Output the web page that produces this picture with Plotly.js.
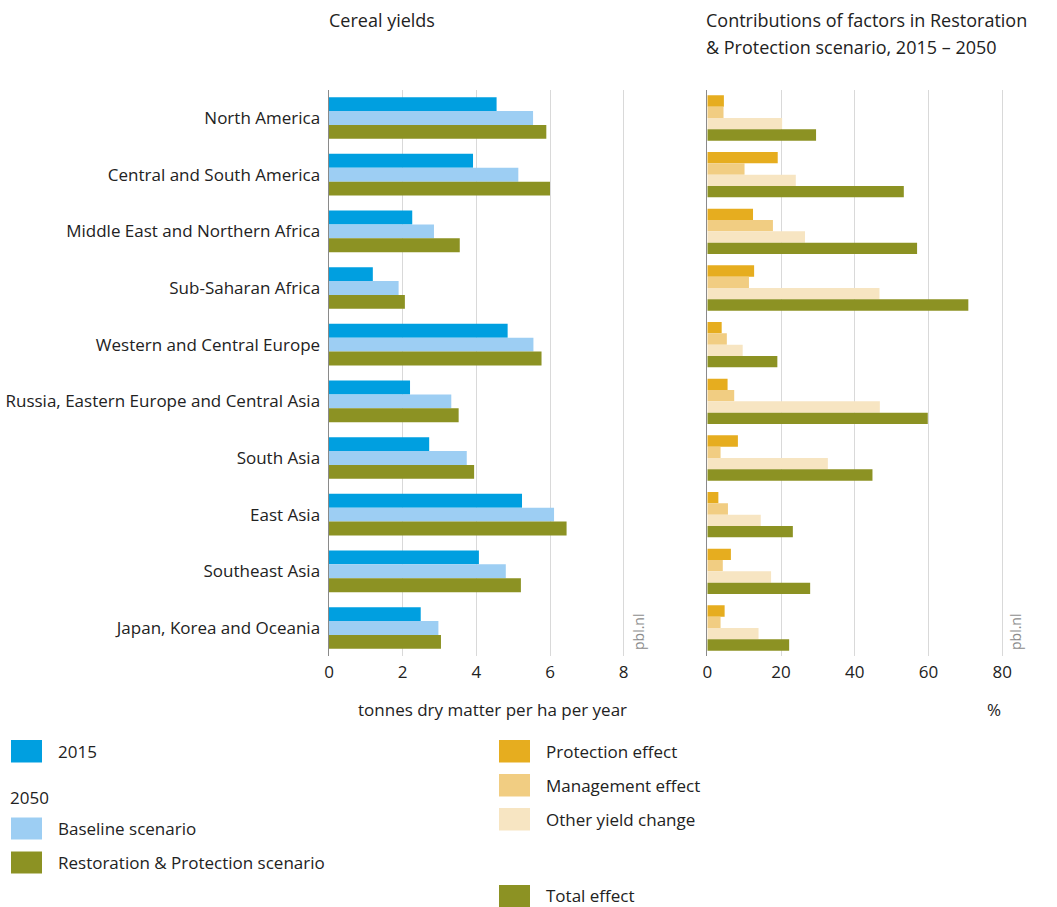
<!DOCTYPE html>
<html><head><meta charset="utf-8">
<script src="https://cdn.plot.ly/plotly-3.0.1.min.js"></script>
<style>html,body{margin:0;padding:0;background:#fff}</style>
</head><body><div id="chart" style="width:1057px;height:907px"></div>
<script>
const regions = ["North America","Central and South America","Middle East and Northern Africa","Sub-Saharan Africa","Western and Central Europe","Russia, Eastern Europe and Central Asia","South Asia","East Asia","Southeast Asia","Japan, Korea and Oceania"];
const yield2015 = [4.55, 3.91, 2.26, 1.19, 4.85, 2.20, 2.72, 5.24, 4.07, 2.49];
const yieldBaseline2050 = [5.54, 5.14, 2.85, 1.89, 5.55, 3.32, 3.74, 6.11, 4.80, 2.97];
const yieldRP2050 = [5.90, 6.00, 3.55, 2.06, 5.77, 3.52, 3.94, 6.45, 5.21, 3.04];
const protectionEffect = [4.5, 19.1, 12.4, 12.7, 3.9, 5.5, 8.3, 3.0, 6.4, 4.7];
const managementEffect = [4.4, 10.1, 17.8, 11.3, 5.3, 7.3, 3.6, 5.6, 4.2, 3.6];
const otherYieldChange = [20.3, 24.0, 26.5, 46.7, 9.6, 46.8, 32.7, 14.5, 17.3, 13.9];
const totalEffect = [29.5, 53.3, 56.9, 70.8, 19.0, 59.8, 44.8, 23.2, 27.9, 22.2];
const leftTicks = [0, 2, 4, 6, 8];
const rightTicks = [0, 20, 40, 60, 80];

const W = 1057, H = 907;
const px = x => x / W, py = y => 1 - y / H;
const FONT = "Open Sans, Noto Sans, sans-serif";
const TXT = "#222";

const C2015 = "#009fe0", CBASE = "#9dcef3", CRP = "#8c9223";
const CPROT = "#e6ad1f", CMAN = "#f1cd82", COTH = "#f7e5c2";

function bar(x, color, xa, ya, w, off, name) {
  return {type: "bar", orientation: "h", x: x, y: regions, name: name,
    xaxis: xa, yaxis: ya, width: w, offset: off,
    marker: {color: color, line: {width: 0}}, hoverinfo: "x+y+name", showlegend: false};
}
const lw = 0.245;
const rw = 0.2;
const data = [
  bar(yield2015, C2015, "x", "y", lw, -1.5*lw, "2015"),
  bar(yieldBaseline2050, CBASE, "x", "y", lw, -0.5*lw, "Baseline scenario"),
  bar(yieldRP2050, CRP, "x", "y", lw, 0.5*lw, "Restoration & Protection scenario"),
  bar(protectionEffect, CPROT, "x2", "y2", rw, -2*rw, "Protection effect"),
  bar(managementEffect, CMAN, "x2", "y2", rw, -rw, "Management effect"),
  bar(otherYieldChange, COTH, "x2", "y2", rw, 0, "Other yield change"),
  bar(totalEffect, CRP, "x2", "y2", rw, rw, "Total effect")
];

const yDom = [py(656.3), py(89.7)];
const axFont = {family: FONT, size: 17, color: TXT};
const layout = {
  width: W, height: H, margin: {l: 0, r: 0, t: 0, b: 0},
  paper_bgcolor: "#fff", plot_bgcolor: "#fff",
  barmode: "overlay", showlegend: false,
  font: {family: FONT, size: 17, color: TXT},
  xaxis: {domain: [px(329), px(638.4)], range: [0, 8.4], tickvals: leftTicks,
    showgrid: true, gridcolor: "#d9d9d9", gridwidth: 1, zeroline: false, showline: false,
    ticks: "", tickfont: axFont, ticklabelstandoff: 4, anchor: "y", fixedrange: true},
  yaxis: {domain: yDom, type: "category", categoryorder: "array", categoryarray: regions,
    range: [9.5, -0.5], showgrid: false, zeroline: false, showline: true,
    linecolor: "#8a8a8a", linewidth: 1.5, ticks: "", ticklabelstandoff: 4,
    tickfont: axFont, anchor: "x", fixedrange: true},
  xaxis2: {domain: [px(707.3), px(1017)], range: [0, 84], tickvals: rightTicks,
    showgrid: true, gridcolor: "#d9d9d9", gridwidth: 1, zeroline: false, showline: false,
    ticks: "", tickfont: axFont, ticklabelstandoff: 4, anchor: "y2", fixedrange: true},
  yaxis2: {domain: yDom, type: "category", categoryorder: "array", categoryarray: regions,
    range: [9.5, -0.5], showgrid: false, zeroline: false, showline: true,
    linecolor: "#8a8a8a", linewidth: 1.5, ticks: "", showticklabels: false,
    anchor: "x2", fixedrange: true},
  shapes: [],
  annotations: []
};

function ann(text, x, y, opts) {
  layout.annotations.push(Object.assign({text: text, x: px(x), y: py(y), xref: "paper", yref: "paper",
    showarrow: false, xanchor: "left", yanchor: "middle",
    font: {family: FONT, size: 17, color: TXT}}, opts || {}));
}
function swatch(x0, y0, x1, y1, color) {
  layout.shapes.push({type: "rect", xref: "paper", yref: "paper",
    x0: px(x0), x1: px(x1), y0: py(y1), y1: py(y0), fillcolor: color, line: {width: 0}});
}

const titleFont = {family: FONT, size: 18, color: TXT};
// titles
ann("Cereal yields", 327, 20, {font: titleFont});
ann("Contributions of factors in Restoration", 704, 20, {font: titleFont});
ann("&amp; Protection scenario, 2015 – 2050", 704, 47, {font: titleFont});
// axis titles
ann("tonnes dry matter per ha per year", 492, 709, {xanchor: "center"});
ann("%", 994, 709, {xanchor: "center"});
// pbl.nl
ann("pbl.nl", 638, 632, {xanchor: "center", textangle: -90, font: {family: FONT, size: 14, color: "#8c8c8c"}});
ann("pbl.nl", 1015, 632, {xanchor: "center", textangle: -90, font: {family: FONT, size: 14, color: "#8c8c8c"}});

// legend left
swatch(11, 740, 42, 762.5, C2015); ann("2015", 56, 751.5);
ann("2050", 8, 797);
swatch(11, 817.5, 42, 839.5, CBASE); ann("Baseline scenario", 56, 828.5);
swatch(11, 851.5, 42, 873.5, CRP); ann("Restoration &amp; Protection scenario", 56, 862.5);
// legend right
swatch(499, 740, 530, 762.5, CPROT); ann("Protection effect", 544, 751);
swatch(499, 774, 530, 796.5, CMAN); ann("Management effect", 544, 785);
swatch(499, 808, 530, 830.5, COTH); ann("Other yield change", 544, 819);
swatch(499, 885, 530, 907, CRP); ann("Total effect", 544, 895);

Plotly.newPlot("chart", data, layout, {displayModeBar: false, staticPlot: true});
</script>
</body></html>
